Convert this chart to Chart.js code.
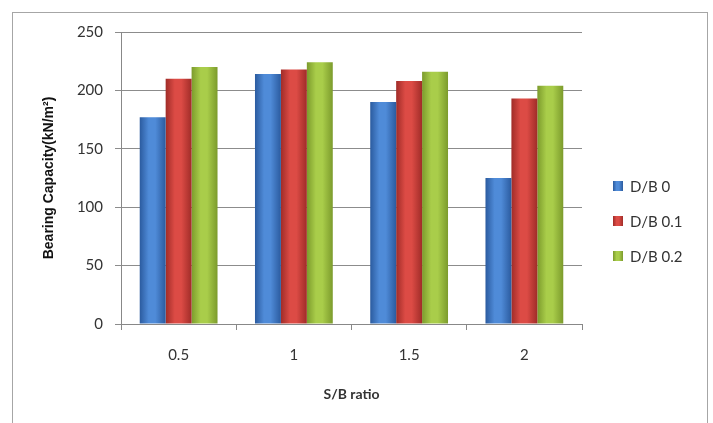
<!DOCTYPE html>
<html lang="en">
<head>
  <meta charset="UTF-8">
  <title>Bearing Capacity vs S/B ratio</title>
  <script src="https://cdn.jsdelivr.net/npm/chart.js@4.4.1/dist/chart.umd.min.js"></script>
  <style>
    html, body { margin: 0; padding: 0; background: #fff; }
    .wrap { width: 713px; height: 423px; }
  </style>
</head>
<body>
  <div class="wrap"><canvas id="chart" width="713" height="423"></canvas></div>
  <script>
    const categories = ['0.5', '1', '1.5', '2'];
    const seriesNames = ['D/B 0', 'D/B 0.1', 'D/B 0.2'];
    const db0 = [177, 214, 190, 125];
    const db01 = [210, 218, 208, 193];
    const db02 = [220, 224, 216, 204];
    const yTicks = [0, 50, 100, 150, 200, 250];

    // edge, centre colours for the shaded bars
    const shades = [
      ['#2b5b9f', '#4f8bd8'],
      ['#a02c28', '#dc4b45'],
      ['#7c9b2c', '#a9cd4a']
    ];
    const fontFam = 'Lato, "Open Sans", sans-serif';

    function shade(ctx, x0, x1, pair) {
      const g = ctx.createLinearGradient(x0, 0, x1, 0);
      g.addColorStop(0, pair[0]);
      g.addColorStop(0.35, pair[1]);
      g.addColorStop(0.6, pair[1]);
      g.addColorStop(1, pair[0]);
      return g;
    }

    const frame = {
      id: 'frame',
      beforeDraw(chart) {
        const c = chart.ctx;
        c.save();
        c.fillStyle = '#fff';
        c.fillRect(0, 0, chart.width, chart.height);
        c.strokeStyle = '#a6a6a6';
        c.lineWidth = 1;
        c.strokeRect(12.5, 12.5, 695, 430);
        c.restore();
      },
      beforeDatasetsDraw(chart) {
        chart.data.datasets.forEach((ds, i) => {
          chart.getDatasetMeta(i).data.forEach(bar => {
            bar.options.backgroundColor = shade(chart.ctx, bar.x - bar.width / 2, bar.x + bar.width / 2, shades[i]);
          });
        });
      },
      afterDraw(chart) {
        const c = chart.ctx;
        const ys = [186, 221, 256];
        c.save();
        c.font = '15px ' + fontFam;
        c.textBaseline = 'middle';
        seriesNames.forEach((name, i) => {
          c.fillStyle = shade(c, 613, 623, shades[i]);
          c.fillRect(613, ys[i] - 5, 10, 10);
          c.fillStyle = '#333';
          c.fillText(name, 630, ys[i] + 1);
        });
        c.restore();
      }
    };

    new Chart(document.getElementById('chart'), {
      type: 'bar',
      data: {
        labels: categories,
        datasets: [
          { label: seriesNames[0], data: db0 },
          { label: seriesNames[1], data: db01 },
          { label: seriesNames[2], data: db02 }
        ].map((d, i) => Object.assign(d, {
          backgroundColor: ctx => shades[ctx.datasetIndex][1],
          borderWidth: 0,
          categoryPercentage: 0.675,
          barPercentage: 1
        }))
      },
      options: {
        responsive: false,
        animation: false,
        layout: { padding: { left: 41, right: 131, top: 32, bottom: 20 } },
        plugins: {
          legend: { display: false },
          tooltip: { enabled: false }
        },
        scales: {
          x: {
            grid: { drawOnChartArea: false, drawTicks: true, tickLength: 6, color: '#888', offset: true },
            border: { color: '#888' },
            ticks: { color: '#333', font: { family: fontFam, size: 15 }, padding: 16 },
            title: { display: true, text: 'S/B ratio', color: '#333', font: { family: fontFam, size: 14, weight: 'bold' }, padding: 0 },
            afterFit(s) { s.height = 79; }
          },
          y: {
            min: 0,
            max: 250,
            afterBuildTicks(s) { s.ticks = yTicks.map(v => ({ value: v })); },
            grid: { color: '#8c8c8c', tickLength: 6 },
            border: { color: '#888' },
            ticks: { color: '#333', font: { family: fontFam, size: 15 }, padding: 12 },
            title: { display: true, text: 'Bearing Capacity(kN/m²)', color: '#111', font: { family: '"Liberation Sans", Arial, sans-serif', size: 14, weight: 'bold' }, padding: 0 },
            afterFit(s) { s.width = 80; }
          }
        }
      },
      plugins: [frame]
    });
  </script>
</body>
</html>
